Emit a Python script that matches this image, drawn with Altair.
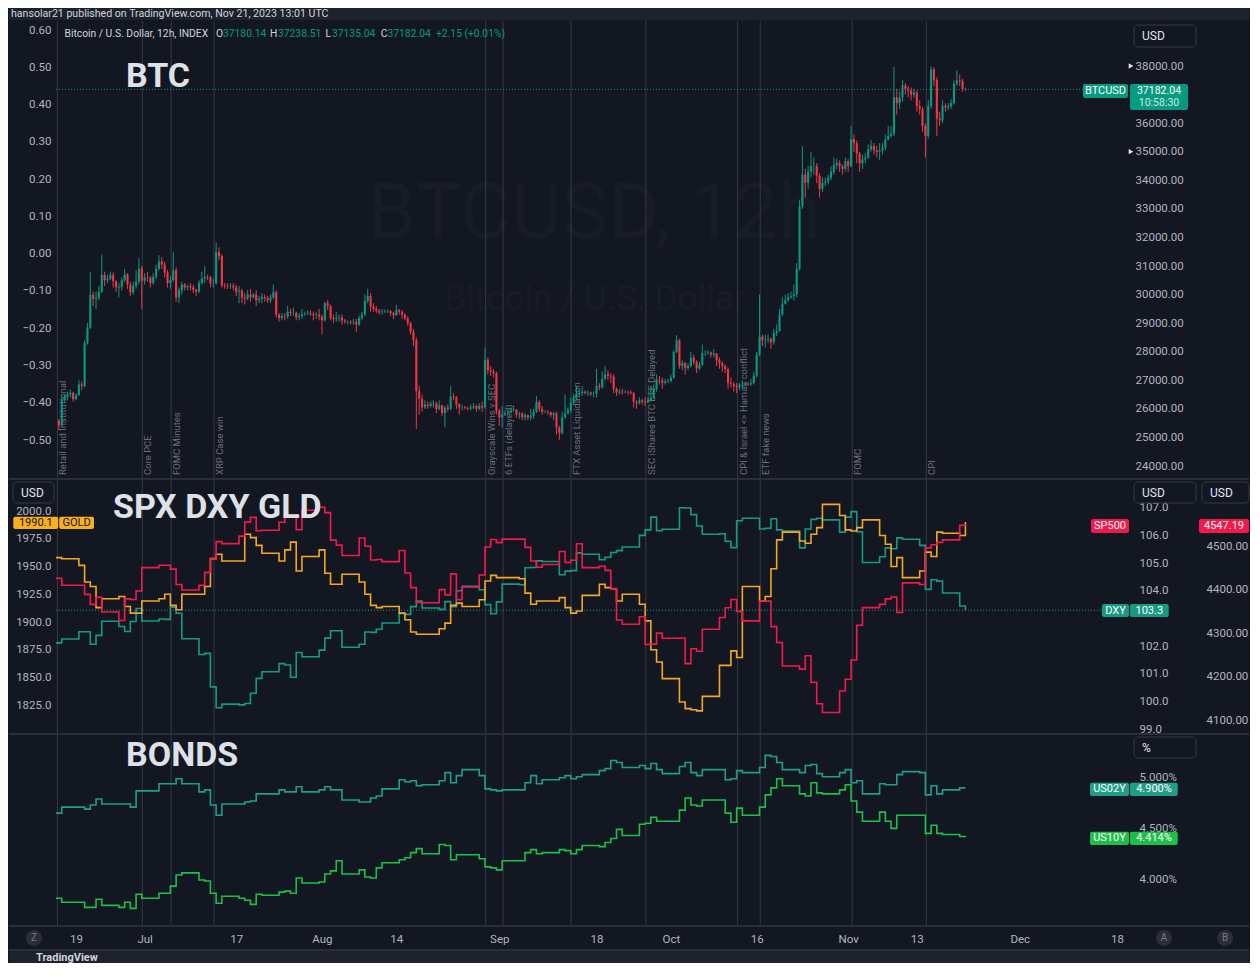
import altair as alt
import pandas as pd

# ---------------- data ----------------
btc_start = "2023-06-16T00:00:00Z"
btc_bar_hours = 12
btc_first_open = 25580
btc_close = [
    25420, 26330, 26420, 26500, 26560, 26340, 26480, 26850, 26800, 28300,
    28850, 30000, 29850, 29890, 30100, 30690, 30500, 30550, 30680, 30470,
    30250, 30270, 30500, 30700, 30350, 30080, 30300, 30450, 30900, 30480,
    30600, 30590, 30400, 30620, 30900, 31160, 31050, 30770, 30400, 30510,
    30850, 29900, 30150, 30350, 30250, 30290, 30250, 30170, 30100, 30410,
    30550, 30620, 30600, 30390, 30400, 31480, 31350, 30320, 30300, 30290,
    30310, 30250, 30100, 30140, 29900, 29860, 30000, 29910, 30000, 29800,
    29850, 29910, 29870, 29790, 29900, 30080, 29300, 29180, 29250, 29230,
    29400, 29350, 29350, 29210, 29250, 29310, 29330, 29350, 29320, 29280,
    29300, 29230, 29100, 29700, 29600, 29180, 29150, 29180, 29200, 29090,
    29050, 29050, 29020, 29040, 28950, 29180, 29300, 29770, 29950, 29580,
    29500, 29430, 29380, 29400, 29410, 29420, 29360, 29280, 29450, 29400,
    29300, 29170, 29000, 28700, 28400, 26620, 26350, 26050, 26150, 26100,
    26180, 26190, 26000, 26120, 25850, 26040, 26000, 26430, 26400, 26160,
    26050, 26050, 26030, 26010, 26050, 26090, 26000, 26100, 26050, 27720,
    27350, 27300, 27250, 25930, 25700, 25800, 25850, 25870, 25950, 25970,
    25800, 25830, 25700, 25780, 25700, 25750, 25900, 26240, 26000, 25900,
    25900, 25890, 25780, 25840, 25350, 25160, 25700, 25840, 25950, 26220,
    26400, 26530, 26550, 26600, 26560, 26570, 26520, 26530, 26800, 26760,
    27050, 27210, 27150, 27130, 26700, 26570, 26600, 26580, 26590, 26580,
    26550, 26250, 26200, 26300, 26250, 26220, 26300, 26370, 26700, 27020,
    27000, 26910, 26950, 26970, 27100, 27990, 28400, 27500, 27600, 27430,
    27500, 27790, 27650, 27410, 27550, 27950, 27950, 27970, 27900, 27940,
    27700, 27600, 27500, 27390, 26900, 26870, 26800, 26760, 26850, 26860,
    26870, 26860, 26900, 27160, 27900, 28520, 28400, 28420, 28450, 28330,
    28650, 28720, 29300, 29680, 29800, 29920, 29950, 30000, 30900, 33090,
    34200, 33920, 34300, 34500, 34500, 34160, 33700, 33910, 33950, 34090,
    34300, 34540, 34600, 34490, 34400, 34670, 34500, 35440, 35300, 34940,
    34600, 34730, 34800, 35080, 35200, 35050, 35000, 35040, 35150, 35420,
    35550, 35630, 36900, 36700, 36900, 37320, 37200, 37140, 37000, 37070,
    36600, 36490, 35900, 35550, 36600, 37880, 37500, 36160, 36100, 36600,
    36550, 36590, 36700, 37380, 37500, 37470, 37200, 37182,
]
btc_high = [
    25650, 26470, 26500, 26600, 26680, 26600, 26550, 27000, 26950, 28400,
    29000, 30800, 30100, 30100, 30300, 31400, 30800, 30700, 30800, 30780,
    30500, 30400, 30600, 30900, 30750, 30450, 30450, 30850, 31280, 31000,
    30750, 30800, 30650, 30750, 31050, 31380, 31300, 31150, 30850, 30650,
    31500, 30950, 30250, 30450, 30400, 30350, 30400, 30350, 30200, 30500,
    30800, 31000, 30700, 30650, 30550, 31820, 31650, 31400, 30400, 30400,
    30400, 30400, 30350, 30300, 30200, 30050, 30150, 30200, 30050, 30150,
    29950, 30050, 30000, 29950, 30000, 30350, 30150, 29350, 29350, 29350,
    29600, 29500, 29550, 29400, 29350, 29500, 29400, 29450, 29450, 29400,
    29400, 29500, 29300, 29750, 29800, 29650, 29300, 29400, 29300, 29300,
    29150, 29100, 29100, 29150, 29150, 29250, 29400, 30000, 30200, 30050,
    29700, 29600, 29500, 29500, 29480, 29480, 29450, 29400, 29650, 29500,
    29450, 29350, 29250, 29050, 28800, 28500, 26800, 26500, 26300, 26250,
    26250, 26300, 26250, 26300, 26150, 26100, 26150, 26800, 26550, 26450,
    26200, 26150, 26100, 26080, 26150, 26200, 26150, 26200, 26250, 28140,
    27800, 27500, 27400, 27300, 26000, 26100, 25950, 25950, 26050, 26100,
    26000, 25900, 25900, 25850, 25800, 26000, 26000, 26450, 26300, 26100,
    25950, 25950, 25900, 25900, 25900, 25400, 25900, 26500, 26050, 26400,
    26500, 26800, 26700, 26800, 26650, 26650, 26600, 26600, 27400, 26900,
    27300, 27500, 27350, 27250, 27200, 26750, 26700, 26700, 26650, 26650,
    26650, 26600, 26300, 26400, 26350, 26400, 26400, 26800, 26850, 27200,
    27150, 27100, 27050, 27050, 27200, 28050, 28580, 28450, 27700, 27650,
    27600, 28000, 27900, 27700, 27650, 28250, 28050, 28050, 28000, 28100,
    27950, 27800, 27650, 27550, 27450, 27100, 26950, 26900, 26900, 27000,
    26950, 26950, 27050, 27300, 28000, 30000, 28600, 28600, 28600, 28500,
    28800, 28950, 29500, 29900, 30000, 30050, 30100, 30350, 31100, 33300,
    35200, 34400, 34500, 35000, 34800, 34600, 34250, 34100, 34100, 34200,
    34500, 34800, 34750, 34700, 34550, 34800, 34750, 35900, 35600, 35400,
    35000, 34900, 34950, 35250, 35400, 35300, 35200, 35300, 35300, 35600,
    35900, 35900, 37970, 37200, 37100, 37500, 37400, 37300, 37250, 37200,
    37150, 36800, 36550, 36000, 36800, 37980, 37950, 37600, 36400, 36800,
    36700, 36700, 36850, 37500, 37850, 37700, 37550, 37240,
]
btc_low = [
    25250, 25380, 26250, 26300, 26400, 26250, 26300, 26450, 26650, 26750,
    28250, 28800, 29600, 29500, 29800, 30050, 30300, 30400, 30500, 30250,
    30100, 29900, 30150, 30450, 30200, 29950, 30000, 30200, 30350, 29500,
    30350, 30450, 30250, 30350, 30550, 30850, 30900, 30600, 30250, 30200,
    30450, 29750, 29700, 30000, 30150, 30150, 30150, 30050, 29950, 30050,
    30350, 30400, 30500, 30250, 30250, 30350, 31200, 30250, 30200, 30200,
    30200, 30150, 29950, 29700, 29700, 29650, 29800, 29750, 29850, 29600,
    29700, 29700, 29750, 29700, 29700, 29850, 29200, 29050, 29100, 29100,
    29150, 29250, 29250, 29100, 29100, 29150, 29250, 29280, 29250, 29100,
    29150, 29100, 28600, 29050, 29450, 29100, 29000, 29050, 29050, 28950,
    28980, 28950, 28950, 28950, 28700, 28900, 29100, 29250, 29700, 29400,
    29400, 29350, 29300, 29300, 29350, 29350, 29250, 29150, 29250, 29300,
    29150, 29100, 28900, 28600, 28200, 25300, 25800, 25900, 26000, 26000,
    26050, 26050, 25850, 25950, 25750, 25350, 25900, 25950, 26300, 26000,
    25800, 25950, 25980, 25950, 25950, 26000, 25900, 25950, 25900, 26000,
    27200, 27150, 27100, 25800, 25400, 25350, 25750, 25800, 25850, 25900,
    25700, 25650, 25600, 25600, 25600, 25600, 25650, 25850, 25900, 25800,
    25850, 25800, 25700, 25600, 25100, 24900, 25100, 25650, 25800, 25850,
    26150, 26300, 26450, 26450, 26500, 26450, 26450, 26400, 26400, 26650,
    26700, 27000, 27000, 26900, 26550, 26450, 26500, 26500, 26550, 26500,
    26500, 26050, 26000, 26150, 26150, 26100, 26200, 26250, 26350, 26600,
    26850, 26700, 26850, 26900, 26950, 27050, 27950, 27400, 27350, 27200,
    27350, 27450, 27550, 27250, 27350, 27500, 27850, 27900, 27800, 27800,
    27500, 27400, 27300, 27250, 26700, 26750, 26600, 26550, 26650, 26700,
    26800, 26800, 26800, 26850, 27100, 27850, 28200, 28150, 28300, 28100,
    28250, 28550, 28700, 29250, 29650, 29750, 29850, 29800, 29900, 30850,
    33000, 33400, 33700, 34100, 34200, 33900, 33400, 33600, 33800, 33850,
    34000, 34200, 34400, 34300, 34200, 34300, 34300, 34450, 35000, 34600,
    34300, 34400, 34600, 34750, 35000, 34900, 34800, 34700, 34900, 35050,
    35400, 35500, 35550, 36300, 36500, 36750, 37000, 36900, 36800, 36900,
    36400, 36300, 35700, 34800, 35450, 36500, 37300, 35550, 35900, 36000,
    36400, 36450, 36500, 36650, 37300, 37300, 37100, 37135,
]

trading_days = [
    "06-15", "06-16", "06-19", "06-20", "06-21", "06-22", "06-23", "06-26", "06-27", "06-28", "06-29", "06-30",
    "07-03", "07-04", "07-05", "07-06", "07-07", "07-10", "07-11", "07-12", "07-13", "07-14", "07-17", "07-18",
    "07-19", "07-20", "07-21", "07-24", "07-25", "07-26", "07-27", "07-28", "07-31",
    "08-01", "08-02", "08-03", "08-04", "08-07", "08-08", "08-09", "08-10", "08-11", "08-14", "08-15", "08-16",
    "08-17", "08-18", "08-21", "08-22", "08-23", "08-24", "08-25", "08-28", "08-29", "08-30", "08-31",
    "09-01", "09-04", "09-05", "09-06", "09-07", "09-08", "09-11", "09-12", "09-13", "09-14", "09-15", "09-18",
    "09-19", "09-20", "09-21", "09-22", "09-25", "09-26", "09-27", "09-28", "09-29",
    "10-02", "10-03", "10-04", "10-05", "10-06", "10-09", "10-10", "10-11", "10-12", "10-13", "10-16", "10-17",
    "10-18", "10-19", "10-20", "10-23", "10-24", "10-25", "10-26", "10-27", "10-30", "10-31",
    "11-01", "11-02", "11-03", "11-06", "11-07", "11-08", "11-09", "11-10", "11-13", "11-14", "11-15", "11-16",
    "11-17", "11-20", "11-21",
]
spx = [
    4425.8, 4409.6, 4409.6, 4388.7, 4365.7, 4381.9, 4348.3, 4328.8, 4378.4, 4376.9, 4396.4, 4450.4,
    4455.6, 4455.6, 4446.8, 4411.6, 4399.0, 4409.5, 4439.3, 4472.2, 4510.0, 4505.4, 4522.8, 4555.0,
    4565.7, 4534.9, 4536.3, 4554.6, 4567.5, 4566.8, 4537.4, 4582.2, 4589.0,
    4576.7, 4513.4, 4501.9, 4478.0, 4518.4, 4499.4, 4467.7, 4468.8, 4464.1, 4489.7, 4437.9, 4404.3,
    4370.4, 4369.7, 4399.8, 4387.6, 4436.0, 4376.3, 4405.7, 4433.3, 4497.6, 4514.9, 4507.7,
    4515.8, 4515.8, 4496.8, 4465.5, 4451.1, 4457.5, 4487.5, 4461.9, 4467.4, 4505.1, 4450.3, 4453.5,
    4444.0, 4402.2, 4330.0, 4320.1, 4337.4, 4273.5, 4274.5, 4299.7, 4288.1,
    4288.4, 4229.5, 4263.8, 4258.2, 4308.5, 4335.7, 4358.2, 4377.0, 4349.6, 4327.8, 4373.6, 4373.2,
    4314.6, 4278.0, 4224.2, 4217.0, 4247.7, 4186.8, 4137.2, 4117.4, 4166.8, 4193.8,
    4237.9, 4317.8, 4358.3, 4366.0, 4378.4, 4382.8, 4347.4, 4415.2, 4411.6, 4495.7, 4502.9, 4508.2,
    4514.0, 4547.4, 4547.2,
]
gold = [
    1958, 1957, 1951, 1936, 1932, 1913, 1921, 1923, 1914, 1908, 1908, 1919,
    1921, 1925, 1915, 1911, 1925, 1925, 1932, 1957, 1961, 1955, 1955, 1979,
    1976, 1969, 1962, 1955, 1965, 1972, 1946, 1959, 1965,
    1944, 1934, 1934, 1943, 1936, 1925, 1915, 1913, 1914, 1908, 1902, 1891,
    1889, 1889, 1894, 1899, 1915, 1917, 1914, 1920, 1937, 1942, 1940,
    1940, 1939, 1926, 1916, 1919, 1919, 1922, 1913, 1908, 1910, 1924, 1934,
    1931, 1930, 1919, 1925, 1916, 1901, 1875, 1864, 1849,
    1828, 1822, 1821, 1820, 1833, 1861, 1861, 1874, 1868, 1932, 1919, 1923,
    1948, 1974, 1981, 1973, 1971, 1979, 1985, 2006, 1996, 1983,
    1982, 1985, 1992, 1978, 1970, 1950, 1958, 1940, 1946, 1963, 1959, 1981,
    1980, 1978, 1990.1,
]
dxy = [
    102.12, 102.26, 102.52, 102.52, 102.07, 102.39, 102.90, 102.71, 102.53, 102.89, 103.36, 102.91,
    102.98, 102.97, 103.41, 103.19, 102.27, 101.70, 101.74, 100.53, 99.78, 99.91, 99.88, 99.93,
    100.30, 100.84, 101.08, 101.37, 101.32, 100.88, 101.77, 101.62, 101.86,
    102.29, 102.56, 102.56, 101.96, 102.07, 102.51, 102.50, 102.61, 102.84, 103.18, 103.15, 103.43,
    103.63, 103.38, 103.33, 103.61, 103.43, 104.00, 104.16, 104.04, 103.50, 103.17, 103.60,
    104.24, 104.22, 104.83, 104.84, 105.08, 105.06, 104.58, 104.71, 104.73, 105.37, 105.32, 105.12,
    105.21, 105.38, 105.45, 105.58, 106.00, 106.20, 106.66, 106.17, 106.22,
    107.00, 106.99, 106.75, 106.34, 106.04, 106.06, 105.79, 105.56, 106.53, 106.62, 106.23, 106.26,
    106.60, 106.20, 106.16, 105.55, 106.23, 106.58, 106.62, 106.56, 106.12, 106.66,
    106.86, 106.13, 105.02, 105.23, 105.55, 105.52, 105.91, 105.86, 105.64, 104.05, 104.40, 104.35,
    103.92, 103.45, 103.30,
]
us02y = [
    4.65, 4.71, 4.71, 4.69, 4.73, 4.79, 4.74, 4.74, 4.74, 4.71, 4.87, 4.87,
    4.94, 4.94, 4.94, 4.99, 4.94, 4.86, 4.88, 4.73, 4.63, 4.74, 4.74, 4.76,
    4.77, 4.84, 4.84, 4.88, 4.86, 4.86, 4.91, 4.86, 4.88,
    4.91, 4.88, 4.88, 4.78, 4.76, 4.76, 4.80, 4.82, 4.89, 4.98, 4.96, 4.97,
    4.92, 4.93, 4.97, 5.05, 4.95, 5.02, 5.08, 5.02, 4.89, 4.88, 4.87,
    4.88, 4.88, 4.95, 5.02, 4.94, 4.98, 5.00, 5.02, 4.99, 5.01, 5.03, 5.07,
    5.09, 5.17, 5.15, 5.10, 5.12, 5.09, 5.14, 5.08, 5.04,
    5.11, 5.15, 5.05, 5.02, 5.08, 5.08, 4.98, 4.99, 5.07, 5.05, 5.10, 5.22,
    5.21, 5.15, 5.08, 5.05, 5.12, 5.13, 5.04, 5.01, 5.05, 5.08,
    4.95, 4.97, 4.84, 4.94, 4.93, 4.93, 5.03, 5.06, 5.05, 4.83, 4.92, 4.84,
    4.88, 4.90, 4.90,
]
us10y = [
    3.81, 3.77, 3.77, 3.72, 3.72, 3.80, 3.74, 3.72, 3.77, 3.71, 3.85, 3.81,
    3.86, 3.86, 3.93, 4.04, 4.06, 3.99, 3.98, 3.86, 3.76, 3.83, 3.81, 3.79,
    3.75, 3.85, 3.84, 3.87, 3.88, 3.86, 4.01, 3.96, 3.97,
    4.05, 4.08, 4.18, 4.05, 4.09, 4.02, 4.01, 4.11, 4.16, 4.19, 4.21, 4.26,
    4.30, 4.25, 4.34, 4.33, 4.19, 4.24, 4.24, 4.20, 4.12, 4.11, 4.09,
    4.18, 4.18, 4.26, 4.29, 4.25, 4.26, 4.29, 4.28, 4.25, 4.29, 4.33, 4.32,
    4.36, 4.40, 4.49, 4.43, 4.54, 4.55, 4.61, 4.57, 4.57,
    4.68, 4.80, 4.73, 4.72, 4.78, 4.78, 4.65, 4.56, 4.70, 4.63, 4.71, 4.83,
    4.90, 4.99, 4.92, 4.84, 4.82, 4.95, 4.85, 4.84, 4.88, 4.93,
    4.77, 4.66, 4.57, 4.66, 4.57, 4.50, 4.63, 4.63, 4.63, 4.45, 4.53, 4.45,
    4.44, 4.42, 4.414,
]

event_times = [
    "2023-06-15T18:00:00Z", "2023-06-30T14:00:00Z", "2023-07-05T15:00:00Z", "2023-07-13T03:00:00Z",
    "2023-08-29T15:00:00Z", "2023-09-01T16:00:00Z", "2023-09-13T13:00:00Z", "2023-09-26T15:00:00Z",
    "2023-10-12T16:00:00Z", "2023-10-16T15:00:00Z", "2023-11-01T17:00:00Z", "2023-11-14T16:00:00Z",
]
event_labels = [
    "Retail and Institutional", "Core PCE", "FOMC Minutes", "XRP Case win",
    "Grayscale Wins v SEC", "6 ETFs (delayed)", "FTX Asset Liquidation", "SEC iShares BTC ETF Delayed",
    "CPI & Israel <> Hamas conflict", "ETF fake news", "FOMC", "CPI",
]

tick_dates = ["2023-06-19", "2023-07-01", "2023-07-17", "2023-08-01", "2023-08-14", "2023-09-01",
              "2023-09-18", "2023-10-01", "2023-10-16", "2023-11-01", "2023-11-13", "2023-12-01",
              "2023-12-18"]
tick_labels = ["19", "Jul", "17", "Aug", "14", "Sep", "18", "Oct", "16", "Nov", "13", "Dec", "18"]

pct_ticks = [-0.5, -0.4, -0.3, -0.2, -0.1, 0.0, 0.1, 0.2, 0.3, 0.4, 0.5, 0.6]
btc_ticks = [24000, 25000, 26000, 27000, 28000, 29000, 30000, 31000, 32000, 33000, 34000, 35000,
             36000, 38000]
gold_ticks = [1825, 1850, 1875, 1900, 1925, 1950, 1975, 2000]
dxy_ticks = [99, 100, 101, 102, 104, 105, 106, 107]
spx_ticks = [4100, 4200, 4300, 4400, 4500]
bond_ticks = [4.0, 4.5, 5.0]

# ---------------- style ----------------
BG = "#131722"
FRAME = "#1e222d"
SEP = "#2a2e39"
TXT = "#d1d4dc"
AX = "#b2b5be"
UP = "#089981"
DOWN = "#f23645"
SPX_C = "#f7184a"
GOLD_C = "#f5a623"
GOLD_LBL = "#f9b01c"
DXY_C = "#179a83"
US02_C = "#1f9e8a"
US10_C = "#1dbf49"
EVT_LINE = "#363a45"
EVT_TXT = "#6b6e79"
WM = "#181c27"
FONT = "Roboto"
W, H = 1066, 904


def ms(s):
    return int(pd.Timestamp(s).value // 10**6)


x_dom = [ms("2023-06-15T12:00:00Z"), ms("2023-12-18T21:00:00Z")]
tick_ms = [ms(d + "T00:00:00Z") for d in tick_dates]
label_expr = " : ".join(
    f"time(datum.value) == {m} ? '{l}'" for m, l in zip(tick_ms, tick_labels)) + " : ''"

AXC = dict(domain=False, ticks=False, grid=False, title=None, labelColor=AX,
           labelFont=FONT, labelFontSize=11.5)
x_axis = alt.Axis(orient="bottom", values=tick_ms, labelExpr=label_expr, labelPadding=8,
                  labelFlush=False, labelOverlap=False, **AXC)
x_scale = alt.Scale(domain=x_dom, nice=False)


def X(field="t"):
    return alt.X(f"{field}:T", scale=x_scale, axis=x_axis)


def ysc(dom, rng):
    return alt.Scale(domain=dom, range=rng, nice=False, zero=False)


BTC_S = ([24000, 38000], [445, 45])
PCT_S = ([-0.5, 0.6], [419, 9])
GOLD_S = ([1825, 2000], [684.3, 490])
DXY_S = ([99, 107], [708.3, 486.7])
SPX_S = ([4100, 4500], [699, 525])
BOND_S = ([4.0, 5.0], [858, 756.7])

ONE = pd.DataFrame({"k": [0]})


def label(x, y, text, size=11, color=TXT, weight="normal", align="left", font=FONT):
    return alt.Chart(ONE).mark_text(text=text, fontSize=size, color=color, fontWeight=weight,
                                    align=align, baseline="middle", font=font).encode(
        x=alt.value(x), y=alt.value(y))


def box(x1, x2, y1, y2, fill, stroke=None, radius=2):
    kw = dict(fill=fill, cornerRadius=radius)
    if stroke:
        kw.update(stroke=stroke, strokeWidth=1)
    return alt.Chart(ONE).mark_rect(**kw).encode(
        x=alt.value(x1), x2=alt.value(x2), y=alt.value(y1), y2=alt.value(y2))


def hline(y, x1=-47, x2=1193, color=SEP, width=2):
    return alt.Chart(ONE).mark_rule(color=color, strokeWidth=width).encode(
        x=alt.value(x1), x2=alt.value(x2), y=alt.value(y))


# ---------------- tables ----------------
btc_t = [ms(btc_start) + i * btc_bar_hours * 3600 * 1000 for i in range(len(btc_close))]
btc_open = [btc_first_open] + btc_close[:-1]
btc = pd.DataFrame({"t": btc_t, "o": btc_open, "h": btc_high, "l": btc_low, "c": btc_close})

line_t = [ms(f"2023-{d}T12:00:00Z") for d in trading_days]
lines = pd.DataFrame({"t": line_t, "spx": spx, "gold": gold, "dxy": dxy})
bonds = pd.concat([
    pd.DataFrame({"t": line_t, "v": us02y, "s": "US02Y"}),
    pd.DataFrame({"t": line_t, "v": us10y, "s": "US10Y"}),
])
events = pd.DataFrame({"t": [ms(s) for s in event_times], "label": event_labels})

layers = []

# frame strips and watermark
layers.append(box(-47, 1193, -13, -1, FRAME, radius=0))
layers.append(label(-45, -7, "hansolar21 published on TradingView.com, Nov 21, 2023 13:01 UTC", 10.6, TXT))
layers.append(label(538, 194, "BTCUSD, 12h", 78, WM, align="center"))
layers.append(label(539, 278, "Bitcoin / U.S. Dollar", 35, WM, align="center"))

# event lines + labels
layers.append(alt.Chart(events).mark_rule(color=EVT_LINE, strokeWidth=1).encode(
    x=X(), y=alt.value(0), y2=alt.value(H)))
layers.append(alt.Chart(events).mark_text(angle=270, align="left", baseline="middle", dy=6,
                                          fontSize=9.5, font=FONT, color=EVT_TXT).encode(
    x=X(), y=alt.value(454), text="label:N"))

# left percent scale of the BTC pane
layers.append(alt.Chart(pd.DataFrame({"p": pct_ticks})).mark_point(opacity=0).encode(
    x=alt.value(0),
    y=alt.Y("p:Q", scale=ysc(*PCT_S),
            axis=alt.Axis(orient="left", values=pct_ticks, format=".2f", labelPadding=5, **AXC))))

# BTC candles
cond = alt.condition("datum.c >= datum.o", alt.value(UP), alt.value(DOWN))
layers.append(alt.Chart(btc).mark_rule(strokeWidth=1).encode(
    x=X(), y=alt.Y("l:Q", scale=ysc(*BTC_S), axis=None), y2="h:Q", color=cond))
layers.append(alt.Chart(btc).mark_rule(strokeWidth=2.1).encode(
    x=X(),
    y=alt.Y("o:Q", scale=ysc(*BTC_S),
            axis=alt.Axis(orient="right", values=btc_ticks, format=".2f", labelPadding=13, **AXC)),
    y2="c:Q", color=cond))
layers.append(alt.Chart(pd.DataFrame({"v": [btc_close[-1]]})).mark_rule(
    color=UP, strokeDash=[1, 2], strokeWidth=1).encode(
    x=alt.value(0), x2=alt.value(1027), y=alt.Y("v:Q", scale=ysc(*BTC_S), axis=None)))

# middle pane lines
layers.append(alt.Chart(lines).mark_line(interpolate="step-after", color=DXY_C, strokeWidth=1.6).encode(
    x=X(),
    y=alt.Y("dxy:Q", scale=ysc(*DXY_S),
            axis=alt.Axis(orient="right", values=dxy_ticks, format=".1f", labelPadding=17, **AXC))))
layers.append(alt.Chart(lines).mark_line(interpolate="step-after", color=GOLD_C, strokeWidth=1.6).encode(
    x=X(),
    y=alt.Y("gold:Q", scale=ysc(*GOLD_S),
            axis=alt.Axis(orient="left", values=gold_ticks, format=".1f", labelPadding=5, **AXC))))
layers.append(alt.Chart(lines).mark_line(interpolate="step-after", color=SPX_C, strokeWidth=1.6).encode(
    x=X(),
    y=alt.Y("spx:Q", scale=ysc(*SPX_S),
            axis=alt.Axis(orient="right", values=spx_ticks, format=".2f", offset=78,
                          labelPadding=6, **AXC))))
layers.append(alt.Chart(pd.DataFrame({"v": [dxy[-1]]})).mark_rule(
    color=DXY_C, strokeDash=[1, 2], strokeWidth=1).encode(
    x=alt.value(0), x2=alt.value(1045), y=alt.Y("v:Q", scale=ysc(*DXY_S), axis=None)))

# bonds pane
layers.append(alt.Chart(bonds).mark_line(interpolate="step-after", strokeWidth=1.6).encode(
    x=X(),
    y=alt.Y("v:Q", scale=ysc(*BOND_S),
            axis=alt.Axis(orient="right", values=bond_ticks, labelPadding=17,
                          labelExpr="format(datum.value, '.3f') + '%'", **AXC)),
    color=alt.Color("s:N", scale=alt.Scale(domain=["US02Y", "US10Y"], range=[US02_C, US10_C]),
                    legend=None)))

# pane separators
for yy in (458, 713, 905, 929):
    layers.append(hline(yy))

# pane titles
layers.append(label(70, 56, "BTC", 34, "#dfe1e8", "bold"))
layers.append(label(57, 487, "SPX DXY GLD", 34, "#dfe1e8", "bold"))
layers.append(label(70, 735, "BONDS", 34, "#dfe1e8", "bold"))

# legend row
LF = 10.3
layers.append(label(8.5, 13, "Bitcoin / U.S. Dollar, 12h, INDEX", LF, TXT))
for lx, letter, vx, val in [(160, "O", 167, "37180.14"), (214, "H", 222, "37238.51"),
                            (269.6, "L", 276, "37135.04"), (324.7, "C", 331.5, "37182.04")]:
    layers.append(label(lx, 13, letter, LF, TXT))
    layers.append(label(vx, 13, val, LF, UP))
layers.append(label(380, 13, "+2.15 (+0.01%)", LF, UP))

# currency boxes
for (x1, x2, y1, y2, t) in [(1078, 1140, 4, 26, "USD"), (1078, 1140, 461, 482, "USD"),
                            (1146, 1193, 461, 482, "USD"), (-43, -2, 461, 482, "USD"),
                            (1078, 1140, 716, 737, "%")]:
    layers.append(box(x1, x2, y1, y2, BG, stroke="#363a45", radius=4))
    layers.append(label(x1 + 8, (y1 + y2) / 2, t, 12, "#e0e3eb"))

# alert markers on BTC scale
layers.append(alt.Chart(pd.DataFrame({"v": [38000, 35000]})).mark_point(
    shape="triangle-right", filled=True, color="#e0e3eb", size=28, opacity=1).encode(
    x=alt.value(1075), y=alt.Y("v:Q", scale=ysc(*BTC_S), axis=None)))

# price label boxes
layers.append(box(1027, 1072, 63, 77, UP))
layers.append(label(1049.5, 70, "BTCUSD", 11, "#ffffff", align="center"))
layers.append(box(1074, 1132, 63, 89, UP))
layers.append(label(1103, 69.5, "37182.04", 10.5, "#ffffff", align="center"))
layers.append(label(1103, 82, "10:58:30", 10.5, "#c6ebe3", align="center"))

layers.append(box(1035, 1073, 498, 512, SPX_C))
layers.append(label(1054, 505, "SP500", 11, "#ffffff", align="center"))
layers.append(box(1143, 1193, 498, 512, SPX_C))
layers.append(label(1168, 505, "4547.19", 11, "#ffffff", align="center"))

layers.append(box(1046, 1073, 583, 596, DXY_C))
layers.append(label(1059.5, 589.5, "DXY", 11, "#ffffff", align="center"))
layers.append(box(1074, 1112.7, 583, 596, DXY_C))
layers.append(label(1093.3, 589.5, "103.3", 11, "#ffffff", align="center"))

layers.append(box(1034, 1073, 761.7, 775, US02_C))
layers.append(label(1053.5, 768.3, "US02Y", 11, "#ffffff", align="center"))
layers.append(box(1074, 1121.7, 761.7, 775, US02_C))
layers.append(label(1098, 768.3, "4.900%", 11, "#ffffff", align="center"))

layers.append(box(1034, 1073, 810.7, 824, US10_C))
layers.append(label(1053.5, 817.3, "US10Y", 11, "#ffffff", align="center"))
layers.append(box(1074, 1121.7, 810.7, 824, US10_C))
layers.append(label(1098, 817.3, "4.414%", 11, "#ffffff", align="center"))

layers.append(box(-42.7, 2.2, 495.7, 508, GOLD_LBL))
layers.append(label(-20.2, 501.8, "1990.1", 11, "#131722", align="center"))
layers.append(box(3.2, 38, 495.7, 508, GOLD_LBL))
layers.append(label(20.6, 501.8, "GOLD", 11, "#131722", align="center"))

# axis buttons
layers.append(alt.Chart(pd.DataFrame({"px": [-22, 1108, 1169], "s": ["Z", "A", "B"]})).mark_point(
    shape="circle", filled=True, color="#2a2e39", size=260, opacity=1).encode(
    x=alt.X("px:Q", scale=None), y=alt.value(917)))
layers.append(alt.Chart(pd.DataFrame({"px": [-22, 1108, 1169], "s": ["Z", "A", "B"]})).mark_text(
    fontSize=10, color="#787b86", font=FONT, baseline="middle").encode(
    x=alt.X("px:Q", scale=None), y=alt.value(917), text="s:N"))

# footer
layers.append(box(-47, 1193, 930, 942, FRAME, radius=0))
layers.append(label(-20, 936.5, "TradingView", 11, TXT, "bold"))

chart = alt.layer(*layers).resolve_scale(y="independent").properties(
    width=W, height=H, background=BG, padding=0
).configure_view(stroke=None)

chart.save("out.html", embed_options={"renderer": "svg", "actions": False})
